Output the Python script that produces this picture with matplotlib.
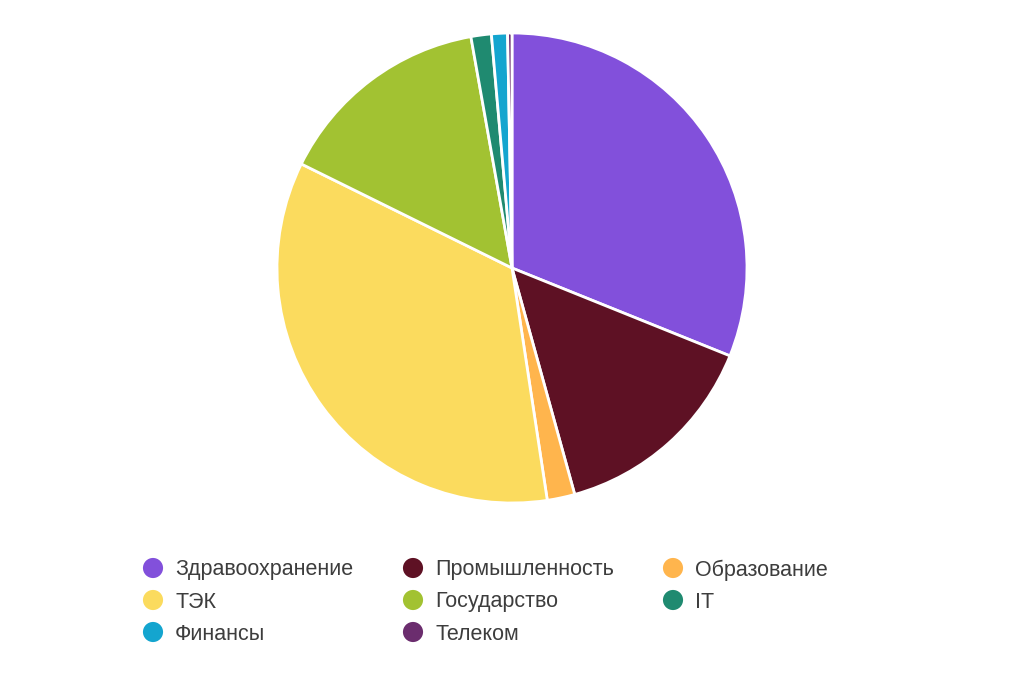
import matplotlib
matplotlib.use("Agg")
import matplotlib.pyplot as plt

categories = ["Здравоохранение", "Промышленность", "Образование", "ТЭК",
              "Государство", "IT", "Финансы", "Телеком"]
values = [31.1, 14.6, 1.9, 34.7, 14.9, 1.4, 1.1, 0.3]
colors = ["#8250DB", "#5E1124", "#FFB54D", "#FBDB5E",
          "#A2C232", "#1F8A70", "#14A5CF", "#6B2D6E"]

plt.rcParams['font.family'] = ['Liberation Sans', 'DejaVu Sans']

W, H = 1024, 683
fig = plt.figure(figsize=(W / 100, H / 100), dpi=100)
fig.patch.set_facecolor("white")

cx, cy, r = 512, 268, 235
ax = fig.add_axes([(cx - r) / W, (H - cy - r) / H, 2 * r / W, 2 * r / H])
ax.pie(values, colors=colors, startangle=90, counterclock=False,
       wedgeprops=dict(edgecolor="white", linewidth=2))
ax.set_xlim(-1.0, 1.0)
ax.set_ylim(-1.0, 1.0)
ax.set_aspect("equal")
ax.axis("off")

# legend: 3 columns, row-major
lax = fig.add_axes([0, 0, 1, 1], facecolor="none")
lax.set_xlim(0, W)
lax.set_ylim(H, 0)
lax.axis("off")
col_x = [153, 413, 673]
row_y = [568, 600, 632]
for i, (name, col) in enumerate(zip(categories, colors)):
    rr, cc = divmod(i, 3)
    x, y = col_x[cc], row_y[rr]
    lax.scatter([x], [y], s=210, color=col, edgecolors="none")
    lax.text(x + 22, y + 2, name, fontsize=15.5, color="#3d3d3d",
             va="center", ha="left")

fig.savefig("out.png", dpi=100, facecolor="white")
